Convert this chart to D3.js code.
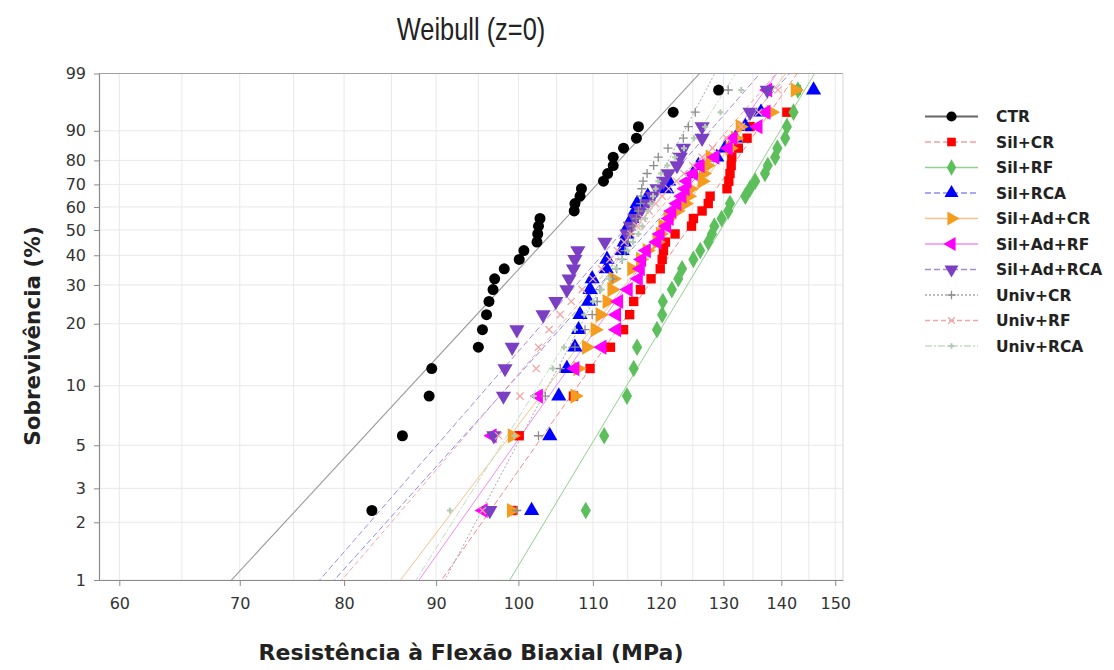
<!DOCTYPE html>
<html><head><meta charset="utf-8">
<script src="https://cdn.jsdelivr.net/npm/d3@7"></script>
<style>body{margin:0;background:#fff}</style>
</head><body>
<svg id="c" width="1114" height="670"></svg>
<script>
// ---------------- data ----------------
const seriesNames = ["CTR","Sil+CR","Sil+RF","Sil+RCA","Sil+Ad+CR","Sil+Ad+RF","Sil+Ad+RCA","Univ+CR","Univ+RF","Univ+RCA"];
const ctr      = [82.9,86.2,89.2,89.5,95.0,95.5,96.0,96.3,96.8,97.0,98.2,100.1,100.7,102.4,102.5,102.6,102.8,107.4,107.5,108.2,108.4,111.5,112.1,112.9,112.9,114.4,116.3,116.6,121.9,129.2];
const silCR    = [99.3,100.1,107.3,109.6,112.5,114.4,115.3,115.9,116.9,118.5,119.9,120.2,120.4,120.7,122.2,124.8,125.1,126.5,127.5,127.8,130.6,130.9,131.1,131.3,131.4,132.5,134.0,134.5,141.0,142.7];
const silRF    = [109.0,111.6,114.9,115.9,116.4,119.4,120.2,120.3,121.7,122.7,123.3,125.1,126.2,127.5,128.1,128.5,129.7,130.8,131.1,133.7,134.5,135.4,137.1,137.6,138.9,139.3,140.7,141.0,142.2,143.0];
const silRCA   = [101.7,104.1,105.3,106.4,107.5,108.0,108.2,109.4,109.6,109.9,111.9,112.0,114.2,114.5,114.9,115.1,115.6,116.1,116.4,118.0,120.9,121.2,125.1,125.9,128.9,130.3,132.0,133.7,136.4,145.9];
const silAdCR  = [99.1,99.2,107.5,107.9,109.1,110.3,111.0,112.0,112.7,112.9,115.6,116.9,117.9,119.4,119.9,120.3,121.1,122.5,123.8,124.3,124.6,126.5,126.7,127.3,127.8,131.1,132.0,132.8,138.2,142.5];
const silAdRF  = [95.6,96.7,102.6,107.5,111.3,113.4,113.4,113.7,115.1,116.6,116.9,117.1,117.8,119.4,119.9,120.9,121.3,121.7,122.5,123.3,123.8,124.1,125.1,126.2,128.6,130.8,131.6,135.9,137.3,137.6];
const silAdRCA = [96.4,96.9,98.1,98.3,99.2,99.8,103.2,104.9,106.4,106.7,107.3,107.5,107.9,111.7,114.9,115.4,116.1,116.9,117.9,118.7,119.4,120.4,121.1,122.5,123.0,123.5,126.5,126.5,134.5,137.5];
const univCR   = [99.8,102.6,103.5,105.5,107.5,108.9,109.9,110.6,111.0,112.8,113.4,114.2,114.6,115.1,115.4,115.8,116.3,116.6,116.9,117.0,117.1,117.3,117.9,118.9,119.6,121.1,123.5,124.3,125.4,130.8];
const univRF   = [95.5,97.5,100.2,102.3,102.6,104.0,105.5,107.0,108.5,110.0,111.2,112.4,113.5,114.5,115.5,116.4,117.3,118.2,119.2,120.2,121.2,122.4,123.6,125.0,126.5,128.2,130.5,133.0,136.0,139.4];
const univRCA  = [91.6,99.5,102.0,104.5,106.0,107.5,108.8,110.0,111.2,112.3,113.3,114.2,115.0,115.8,116.6,117.2,117.6,118.0,118.4,118.8,119.2,119.6,120.0,121.0,122.2,123.6,125.2,127.0,129.5,133.0];
const seriesValues = [ctr,silCR,silRF,silRCA,silAdCR,silAdRF,silAdRCA,univCR,univRF,univRCA];

const xTickLabels = [60,70,80,90,100,110,120,130,140,150];
const xGridValues = [60,65,70,75,80,85,90,95,100,105,110,115,120,125,130,135,140,145,150];
const yTickLabels = [1,2,3,5,10,20,30,40,50,60,70,80,90,99];

// ---------------- styles ----------------
const styles = [
  {m:"circle",  fill:"#000000", line:"#9a9a9a", dash:null,      legLine:"#666", legW:2},
  {m:"square",  fill:"#ff0000", line:"#f28c8c", dash:"6,3",     legLine:"#f2a0a0", legW:1.5},
  {m:"diamond", fill:"#5cbf5c", line:"#8fd18f", dash:null,      legLine:"#8fd18f", legW:1.5},
  {m:"up",      fill:"#0000ff", line:"#8c8cf0", dash:"6,3",     legLine:"#8c8cf0", legW:1.5},
  {m:"right",   fill:"#f39c1e", line:"#f5c38a", dash:null,      legLine:"#f5c38a", legW:1.5},
  {m:"left",    fill:"#ff00ff", line:"#f38cf3", dash:null,      legLine:"#f38cf3", legW:1.5},
  {m:"down",    fill:"#7b3fc4", line:"#a68ad6", dash:"6,3",     legLine:"#a68ad6", legW:1.5},
  {m:"plus",    fill:"#8c8c8c", line:"#a8a8a8", dash:"2,2",     legLine:"#a8a8a8", legW:1.5},
  {m:"times",   fill:"#f2a6a6", line:"#f2a6a6", dash:"5,3",     legLine:"#f2a6a6", legW:1.5},
  {m:"dot",     fill:"#b3cbb3", line:"#c3dcc3", dash:"7,2,2,2", legLine:"#c3dcc3", legW:1.5}
];

// ---------------- layout ----------------
const svg = d3.select("#c");
const L = 99, R = 843, T = 73.5, B = 580;
const x = d3.scaleLog().domain([58.46, 151.5]).range([L, R]);
const wb = p => Math.log(-Math.log(1 - p));
const y = d3.scaleLinear().domain([wb(0.01), wb(0.99)]).range([B, T]);
const yp = pct => y(wb(pct / 100));

// grid
const g = svg.append("g");
g.selectAll("line.vg").data(xGridValues).join("line")
  .attr("x1", d => x(d)).attr("x2", d => x(d)).attr("y1", T).attr("y2", B)
  .attr("stroke", "#e8e8e8").attr("stroke-width", 1);
g.selectAll("line.hg").data(yTickLabels).join("line")
  .attr("x1", L).attr("x2", R).attr("y1", d => yp(d)).attr("y2", d => yp(d))
  .attr("stroke", "#e8e8e8").attr("stroke-width", 1);

// frame
svg.append("line").attr("x1", L).attr("x2", R).attr("y1", T).attr("y2", T).attr("stroke", "#a0a0a0");
svg.append("line").attr("x1", R).attr("x2", R).attr("y1", T).attr("y2", B).attr("stroke", "#d8d8d8");

// clip
svg.append("clipPath").attr("id", "clip").append("rect")
  .attr("x", L).attr("y", T).attr("width", R - L).attr("height", B - T);

// Weibull MLE fit
function weibullMLE(xs) {
  const mx = d3.max(xs);
  const lx = xs.map(Math.log), mlx = d3.mean(lx);
  const f = b => { let s0 = 0, s1 = 0; xs.forEach((v, i) => { const w = Math.pow(v / mx, b); s0 += w; s1 += w * lx[i]; }); return s1 / s0 - 1 / b - mlx; };
  let lo = 0.3, hi = 200;
  for (let k = 0; k < 200; k++) { const mid = (lo + hi) / 2; if (f(mid) > 0) hi = mid; else lo = mid; }
  const beta = (lo + hi) / 2;
  const eta = mx * Math.pow(d3.mean(xs.map(v => Math.pow(v / mx, beta))), 1 / beta);
  return {beta, eta};
}
const fitLayer = svg.append("g").attr("clip-path", "url(#clip)");
seriesValues.forEach((vals, si) => {
  const {beta, eta} = weibullMLE(vals);
  const q = p => eta * Math.pow(-Math.log(1 - p), 1 / beta);
  const pts = [0.005, 0.995].map(p => [x(q(p)), y(wb(p))]);
  fitLayer.append("path").attr("d", d3.line()(pts))
    .attr("fill", "none").attr("stroke", styles[si].line).attr("stroke-width", si === 0 ? 1.1 : 1)
    .attr("stroke-dasharray", styles[si].dash);
});

// markers
function markerPath(sel, m, col, scale) {
  scale = scale || 1;
  const sym = (type, size) => d3.symbol(type, size * scale)();
  if (m === "circle") sel.append("path").attr("d", sym(d3.symbolCircle, 95)).attr("fill", col);
  else if (m === "square") sel.append("path").attr("d", sym(d3.symbolSquare, 88)).attr("fill", col);
  else if (m === "diamond") sel.append("path").attr("d", sym(d3.symbolDiamond, 90)).attr("fill", col);
  else if (["up","right","left","down"].includes(m)) {
    const rot = {up:0, right:90, left:-90, down:180}[m];
    sel.append("path").attr("d", sym(d3.symbolTriangle, 100)).attr("fill", col).attr("transform", `rotate(${rot})`);
  } else if (m === "plus") {
    const s = 4.5 * Math.sqrt(scale);
    sel.append("path").attr("d", `M${-s},0H${s}M0,${-s}V${s}`).attr("stroke", col).attr("stroke-width", 1.3).attr("fill", "none");
  } else if (m === "times") {
    const s = 3.6 * Math.sqrt(scale);
    sel.append("path").attr("d", `M${-s},${-s}L${s},${s}M${-s},${s}L${s},${-s}`).attr("stroke", col).attr("stroke-width", 1.3).attr("fill", "none");
  } else if (m === "dot") {
    const s = 3 * Math.sqrt(scale);
    sel.append("path").attr("d", `M${-s},0H${s}M0,${-s}V${s}`).attr("stroke", col).attr("stroke-width", 2).attr("fill", "none");
  }
}
const markLayer = svg.append("g");
seriesValues.forEach((vals, si) => {
  const n = vals.length;
  const sorted = vals.slice().sort((a, b) => a - b);
  sorted.forEach((v, i) => {
    const p = (i + 1 - 0.3) / (n + 0.4);
    const mg = markLayer.append("g").attr("transform", `translate(${x(v)},${y(wb(p))})`);
    markerPath(mg, styles[si].m, styles[si].fill);
  });
});

// axes
const tickFont = "'DejaVu Sans', sans-serif";
const xAxis = svg.append("g").attr("transform", `translate(0,${B})`)
  .call(d3.axisBottom(x).tickValues(xTickLabels).tickFormat(d3.format("d")).tickSize(6).tickSizeOuter(0));
const yAxis = svg.append("g").attr("transform", `translate(${L},0)`)
  .call(d3.axisLeft(y).tickValues(yTickLabels.map(v => wb(v / 100))).tickFormat((d, i) => yTickLabels[i]).tickSize(5).tickSizeOuter(0));
[xAxis, yAxis].forEach(a => {
  a.select(".domain").attr("stroke", "#8a8a8a").attr("stroke-width", 1.2);
  a.selectAll(".tick line").attr("stroke", "#8a8a8a");
  a.selectAll(".tick text").attr("font-family", tickFont).attr("font-size", 16).attr("fill", "#333");
});
xAxis.selectAll(".tick text").attr("y", 18).attr("dy", "0.71em");
yAxis.selectAll(".tick text").attr("x", -13).attr("dx", 0);

// titles
svg.append("text").attr("transform", `translate(${(L + R) / 2},40) scale(0.82,1)`).attr("text-anchor", "middle")
  .attr("font-family", "'Liberation Sans',sans-serif")
  .attr("font-size", 31).attr("fill", "#222").text("Weibull (z=0)");
svg.append("text").attr("x", (L + R) / 2).attr("y", 660).attr("text-anchor", "middle")
  .attr("font-family", "'DejaVu Sans', sans-serif").attr("font-weight", "bold")
  .attr("font-size", 22).attr("fill", "#222").text("Resistência à Flexão Biaxial (MPa)");
svg.append("text").attr("transform", `translate(40,336) rotate(-90)`).attr("text-anchor", "middle")
  .attr("font-family", "'DejaVu Sans', sans-serif").attr("font-weight", "bold")
  .attr("font-size", 21.5).attr("fill", "#222").text("Sobrevivência (%)");

// legend
const leg = svg.append("g");
seriesNames.forEach((name, si) => {
  const ly = 116.5 + si * 25.5;
  const st = styles[si];
  leg.append("line").attr("x1", 925).attr("x2", 978).attr("y1", ly).attr("y2", ly)
    .attr("stroke", st.legLine).attr("stroke-width", st.legW).attr("stroke-dasharray", si === 0 ? null : st.dash);
  const mg = leg.append("g").attr("transform", `translate(951.5,${ly})`);
  markerPath(mg, st.m, st.fill, 0.85);
  leg.append("text").attr("x", 996).attr("y", ly).attr("dy", "0.36em")
    .attr("font-family", "'DejaVu Sans', sans-serif").attr("font-weight", "bold")
    .attr("font-size", 15.5).attr("fill", "#222").text(name);
});
</script>
</body></html>
